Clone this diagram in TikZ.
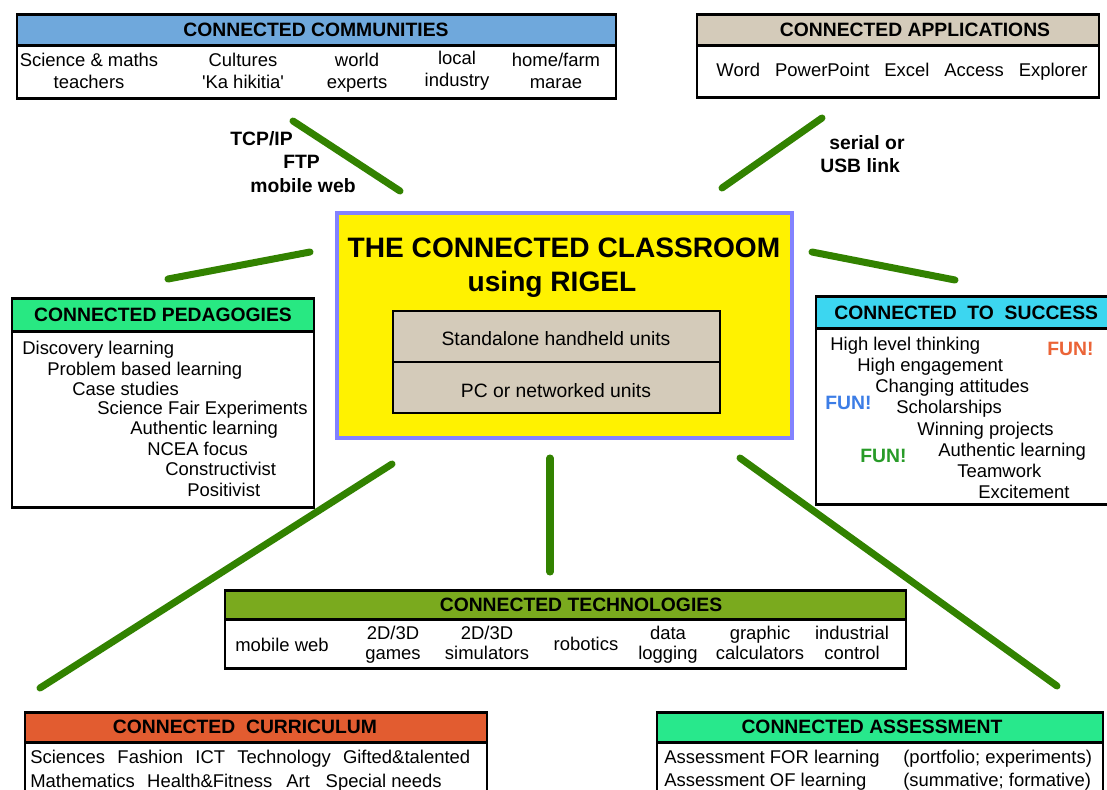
\documentclass[tikz,border=0pt]{standalone}
\usepackage{fontspec}
\setmainfont{Liberation Sans}
\usetikzlibrary{calc}
\definecolor{commblue}{RGB}{111,168,220}
\definecolor{appltan}{RGB}{212,203,186}
\definecolor{pedgreen}{RGB}{40,232,130}
\definecolor{succcyan}{RGB}{60,214,240}
\definecolor{techgreen}{RGB}{122,170,30}
\definecolor{currred}{RGB}{226,92,48}
\definecolor{assegreen}{RGB}{40,232,140}
\definecolor{linkgreen}{RGB}{50,130,0}
\definecolor{frameblue}{RGB}{130,130,255}
\definecolor{funorange}{RGB}{235,100,55}
\definecolor{funblue}{RGB}{60,125,230}
\definecolor{fungreen}{RGB}{40,155,40}
\tikzset{
  box/.style={draw=black, line width=1.7pt, fill=white},
  head/.style={draw=black, line width=1.7pt},
  headtext/.style={anchor=base, inner sep=0pt, font=\bfseries\fontsize{11}{13}\selectfont},
  cell/.style={align=center, anchor=south, inner sep=0pt, text depth=0pt, font=\fontsize{10.5}{12.5}\selectfont},
  entry/.style={anchor=base west, inner sep=0pt, font=\fontsize{10.5}{12.5}\selectfont},
  proto/.style={anchor=base west, inner sep=0pt, font=\bfseries\fontsize{11}{13}\selectfont},
  fun/.style={anchor=base west, inner sep=0pt, font=\bfseries\fontsize{11}{13}\selectfont},
  link/.style={draw=linkgreen, line width=4pt, line cap=round}
}

\begin{document}
\begin{tikzpicture}[x=0.02cm, y=-0.02cm]
\useasboundingbox (0,0) rectangle (1107,789);
\clip (0,0) rectangle (1107,789);
% green links
\coordinate (commA) at (293,121); \coordinate (commB) at (400,191);
\coordinate (applA) at (822,118); \coordinate (applB) at (722,188);
\coordinate (pedA) at (168,279); \coordinate (pedB) at (310,252);
\coordinate (succA) at (812,252); \coordinate (succB) at (955,280);
\coordinate (currA) at (392,464); \coordinate (currB) at (40,688);
\coordinate (techA) at (550,458); \coordinate (techB) at (550,572);
\coordinate (asseA) at (740,458); \coordinate (asseB) at (1057,686);
\draw[link] (commA) -- (commB);
\draw[link] (applA) -- (applB);
\draw[link] (pedA) -- (pedB);
\draw[link] (succA) -- (succB);
\draw[link] (currA) -- (currB);
\draw[link] (techA) -- (techB);
\draw[link] (asseA) -- (asseB);
\node[proto] (tcp) at (230,145) {TCP/IP};
\node[proto] (ftp) at (283,168) {FTP};
\node[proto] (mweb) at (250,192) {mobile web};
\node[proto] (serial) at (829,149) {serial or};
\node[proto] (usb) at (820,172) {USB link};
% connected communities
\draw[box] (17,14) rectangle (616,98);
\draw[head, fill=commblue] (17,14) rectangle (616,45);
\node[headtext] (commT) at (316,36) {CONNECTED COMMUNITIES};
\node[cell] (comm1) at (89,89) {Science \& maths\\teachers};
\node[cell] (comm2) at (243,89) {Cultures\\\textquotesingle Ka hikitia\textquotesingle};
\node[cell] (comm3) at (357,89) {world\\experts};
\node[cell] (comm4) at (457,87) {local\\industry};
\node[cell] (comm5) at (556,89) {home/farm\\marae};
% connected applications
\draw[box] (697,14) rectangle (1099,97);
\draw[head, fill=appltan] (697,14) rectangle (1099,45);
\node[headtext] (applT) at (915,36) {CONNECTED APPLICATIONS};
\node[cell] (appl1) at (902,77) {Word\hspace{8.5pt}PowerPoint\hspace{8.5pt}Excel\hspace{8.5pt}Access\hspace{8.5pt}Explorer};
% the classroom
\draw[draw=frameblue, line width=2.3pt, fill=yellow] (337,213) rectangle (792,438);
\node[anchor=base, inner sep=0pt, font=\bfseries\fontsize{16}{19}\selectfont] (classT) at (564,257) {THE CONNECTED CLASSROOM};
\node[anchor=base, inner sep=0pt, font=\bfseries\fontsize{16}{19}\selectfont] (classU) at (552,291) {using RIGEL};
\draw[draw=black, line width=1.5pt, fill=appltan] (393,311) rectangle (720,362);
\draw[draw=black, line width=1.5pt, fill=appltan] (393,362) rectangle (720,413);
\node[anchor=base, inner sep=0pt, font=\fontsize{11}{13}\selectfont] (unitA) at (556,345) {Standalone handheld units};
\node[anchor=base, inner sep=0pt, font=\fontsize{11}{13}\selectfont] (unitB) at (556,397) {PC or networked units};
% connected pedagogies
\draw[box] (12,298) rectangle (314,507);
\draw[head, fill=pedgreen] (12,298) rectangle (314,331);
\node[headtext] (pedT) at (163,321) {CONNECTED PEDAGOGIES};
\node[entry] (ped1) at (22,354) {Discovery learning};
\node[entry] (ped2) at (47,375) {Problem based learning};
\node[entry] (ped3) at (72,395) {Case studies};
\node[entry] (ped4) at (97,414) {Science Fair Experiments};
\node[entry] (ped5) at (130,434) {Authentic learning};
\node[entry] (ped6) at (147,455) {NCEA focus};
\node[entry] (ped7) at (165,475) {Constructivist};
\node[entry] (ped8) at (187,496) {Positivist};
% connected to success
\draw[box] (816,296) rectangle (1120,504);
\draw[head, fill=succcyan] (816,296) rectangle (1120,328);
\node[headtext, anchor=base west] (succT) at (834,319) {CONNECTED\ \ TO\ \ SUCCESS};
\node[entry] (succ1) at (830,350) {High level thinking};
\node[entry] (succ2) at (857,371) {High engagement};
\node[entry] (succ3) at (875,392) {Changing attitudes};
\node[entry] (succ4) at (896,413) {Scholarships};
\node[entry] (succ5) at (917,435) {Winning projects};
\node[entry] (succ6) at (938,456) {Authentic learning};
\node[entry] (succ7) at (957,477) {Teamwork};
\node[entry] (succ8) at (978,498) {Excitement};
\node[fun, funorange] (funA) at (1047,355) {FUN!};
\node[fun, funblue] (funB) at (825,409) {FUN!};
\node[fun, fungreen] (funC) at (860,462) {FUN!};
% connected technologies
\draw[box] (225,590) rectangle (906,668);
\draw[head, fill=techgreen] (225,590) rectangle (906,619);
\node[headtext] (techT) at (581,611) {CONNECTED TECHNOLOGIES};
\node[cell] (tech1) at (282,652) {mobile web};
\node[cell, font=\fontsize{10.5}{11.5}\selectfont] (tech2) at (393,660) {2D/3D\\games};
\node[cell, font=\fontsize{10.5}{11.5}\selectfont] (tech3) at (487,660) {2D/3D\\simulators};
\node[cell] (tech4) at (586,651) {robotics};
\node[cell, font=\fontsize{10.5}{11.5}\selectfont] (tech5) at (668,660) {data\\logging};
\node[cell, font=\fontsize{10.5}{11.5}\selectfont] (tech6) at (760,660) {graphic\\calculators};
\node[cell, font=\fontsize{10.5}{11.5}\selectfont] (tech7) at (852,660) {industrial\\control};
% connected curriculum
\draw[box] (25,712) rectangle (487,810);
\draw[head, fill=currred] (25,712) rectangle (487,742);
\node[headtext] (currT) at (245,733) {CONNECTED\ \ CURRICULUM};
\node[entry] (curr1) at (30,763) {Sciences\hspace{7pt}Fashion\hspace{7pt}ICT\hspace{7pt}Technology\hspace{7pt}Gifted\&talented};
\node[entry] (curr2) at (30,787) {Mathematics\hspace{7pt}Health\&Fitness\hspace{8pt}Art\hspace{9pt}Special needs};
% connected assessment
\draw[box] (657,712) rectangle (1103,810);
\draw[head, fill=assegreen] (657,712) rectangle (1103,742);
\node[headtext] (asseT) at (872,733) {CONNECTED ASSESSMENT};
\node[entry] (asse1) at (664,763) {Assessment FOR learning};
\node[entry] (asse2) at (903,763) {(portfolio; experiments)};
\node[entry] (asse3) at (664,786) {Assessment OF learning};
\node[entry] (asse4) at (903,786) {(summative; formative)};
\end{tikzpicture}
\end{document}
